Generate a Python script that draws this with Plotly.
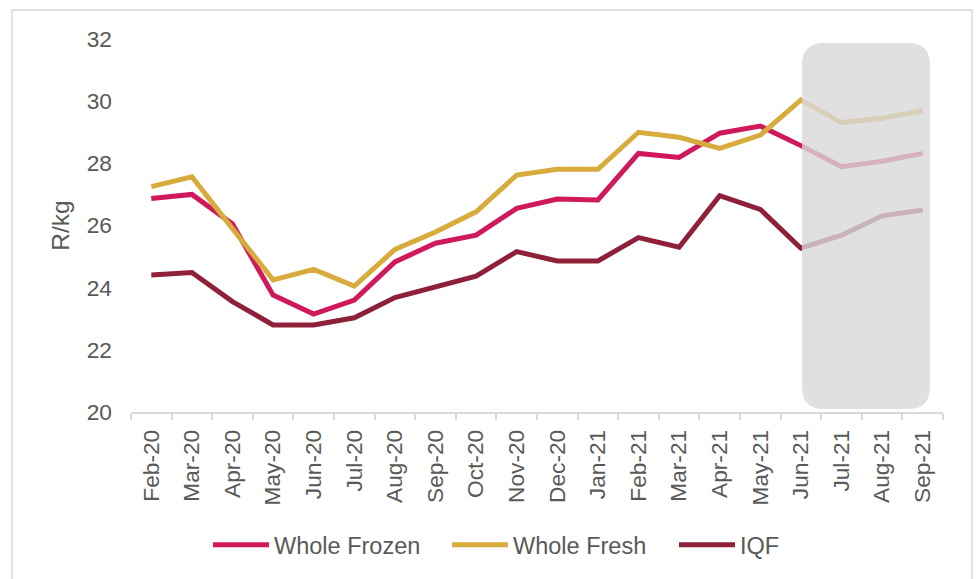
import plotly.graph_objects as go

months = ["Feb-20", "Mar-20", "Apr-20", "May-20", "Jun-20", "Jul-20", "Aug-20", "Sep-20",
          "Oct-20", "Nov-20", "Dec-20", "Jan-21", "Feb-21", "Mar-21", "Apr-21", "May-21",
          "Jun-21", "Jul-21", "Aug-21", "Sep-21"]
whole_frozen = [26.87, 27.00, 26.05, 23.76, 23.15, 23.60, 24.83, 25.43, 25.69, 26.55,
                26.85, 26.82, 28.32, 28.19, 28.97, 29.20, 28.57, 27.89, 28.07, 28.32]
whole_fresh = [27.25, 27.57, 25.90, 24.25, 24.59, 24.05, 25.23, 25.79, 26.44, 27.62,
               27.81, 27.81, 29.00, 28.84, 28.48, 28.91, 30.04, 29.31, 29.45, 29.69]
iqf = [24.41, 24.49, 23.55, 22.80, 22.80, 23.03, 23.68, 24.03, 24.37, 25.16,
       24.86, 24.86, 25.61, 25.30, 26.96, 26.52, 25.27, 25.69, 26.31, 26.50]
y_ticks = [20, 22, 24, 26, 28, 30, 32]

FONT = "Liberation Sans, Arial, sans-serif"
GREY = "#595959"
AXIS = "#d9d9d9"

L, T, PW, PH = 131, 39, 812, 373


def px_x(p):
    return (p - L) / PW


def px_y(p):
    return (T + PH - p) / PH


series = [("Whole Frozen", whole_frozen, "#d0185c", "legend", 208),
          ("Whole Fresh", whole_fresh, "#d8ab3d", "legend2", 447),
          ("IQF", iqf, "#8e2139", "legend3", 674)]

fig = go.Figure()
legends = {}
for name, vals, col, leg, lx in series:
    fig.add_trace(go.Scatter(x=months, y=vals, name=name, mode="lines", legend=leg,
                             line=dict(color=col, width=5)))
    legends[leg] = dict(orientation="h", x=px_x(lx), xanchor="left",
                        y=px_y(545), yanchor="middle",
                        font=dict(size=23.5, color=GREY, family=FONT), itemwidth=56,
                        bgcolor="rgba(0,0,0,0)", borderwidth=0)

# rounded shaded box (forecast region)
x0, x1 = px_x(802), px_x(930)
y0, y1 = px_y(409), px_y(43)
rx, ry = 22 / PW, 22 / PH
path = (f"M {x0 + rx},{y0} L {x1 - rx},{y0} Q {x1},{y0} {x1},{y0 + ry} "
        f"L {x1},{y1 - ry} Q {x1},{y1} {x1 - rx},{y1} "
        f"L {x0 + rx},{y1} Q {x0},{y1} {x0},{y1 - ry} "
        f"L {x0},{y0 + ry} Q {x0},{y0} {x0 + rx},{y0} Z")
fig.add_shape(type="path", path=path, xref="paper", yref="paper",
              fillcolor="rgba(216,216,216,0.8)", line=dict(width=0), layer="above")

# outer border
fig.add_shape(type="rect", xref="paper", yref="paper",
              x0=px_x(12), x1=px_x(972), y0=px_y(600), y1=px_y(10),
              line=dict(color=AXIS, width=1.5), fillcolor="rgba(0,0,0,0)", layer="below")

fig.update_layout(
    width=976, height=579,
    margin=dict(l=L, r=976 - L - PW, t=T, b=579 - T - PH),
    paper_bgcolor="white", plot_bgcolor="white",
    font=dict(family=FONT, color=GREY, size=22.7),
    showlegend=True,
    xaxis=dict(type="category", range=[-0.5, len(months) - 0.5], tickangle=-90,
               showline=True, linecolor=AXIS, linewidth=1.5,
               ticks="outside", tickson="boundaries", ticklen=6, tickcolor=AXIS, tickwidth=1.5,
               showgrid=False, zeroline=False, tickfont=dict(size=22.7, color=GREY),
               ticklabelstandoff=7),
    yaxis=dict(range=[20, 32], tickvals=y_ticks, showgrid=False, zeroline=False,
               showline=False, ticks="", tickfont=dict(size=22.7, color=GREY),
               ticklabelstandoff=18,
               title=dict(text="R/kg", font=dict(size=24.5, color=GREY), standoff=10)),
    **legends,
)

fig.write_html("out.html", config={"displayModeBar": False},
               post_script="document.body.style.margin='0';")
